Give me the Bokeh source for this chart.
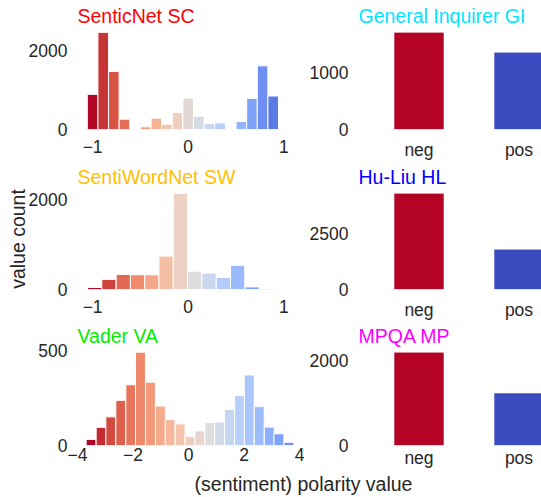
import numpy as np
from bokeh.plotting import figure
from bokeh.layouts import column, row
from bokeh.models import Range1d, FixedTicker, Label, ColumnDataSource
from bokeh.embed import file_html
from bokeh.resources import INLINE

# ---------------- data ----------------
sc_centers = [-1.0, -0.889, -0.778, -0.667, -0.556, -0.444, -0.333, -0.222, -0.111, 0.0,
              0.111, 0.222, 0.333, 0.444, 0.556, 0.667, 0.778, 0.889, 1.0]
sc_counts = [891, 2462, 1471, 261, 0, 67, 286, 134, 429, 798,
             336, 151, 168, 0, 202, 790, 1613, 849, 0]
sc_bin_width = 0.111

sw_centers = [-0.978, -0.829, -0.679, -0.530, -0.380, -0.231, -0.081,
              0.068, 0.218, 0.368, 0.517, 0.667, 0.816]
sw_counts = [44, 225, 335, 327, 327, 742, 2138, 407, 364, 269, 538, 58, 12]
sw_bin_width = 0.1495

va_centers = [-3.51, -3.15, -2.80, -2.44, -2.08, -1.73, -1.37, -1.01, -0.66, -0.30,
              0.055, 0.41, 0.77, 1.12, 1.48, 1.84, 2.19, 2.55, 2.91, 3.26, 3.62]
va_counts = [32, 96, 151, 238, 320, 492, 334, 208, 136, 114,
             47, 77, 121, 124, 190, 263, 372, 205, 97, 62, 17]
va_bin_width = 0.3565

categories = ["neg", "pos"]
gi_counts = [1714, 1363]
hl_counts = [4285, 1798]
mp_counts = [2203, 1240]

unit_ticks = [-1, 0, 1]
unit_tick_labels = ["\u22121", "0", "1"]
va_ticks = [-4, -2, 0, 2, 4]
va_tick_labels = ["\u22124", "\u22122", "0", "2", "4"]
sc_yticks = [0, 2000]
sw_yticks = [0, 2000]
va_yticks = [0, 500]
gi_yticks = [0, 1000]
hl_yticks = [0, 2500]
mp_yticks = [0, 2000]

titles = {
    "sc": ("SenticNet SC", "#ff0000"),
    "sw": ("SentiWordNet SW", "#ffc000"),
    "va": ("Vader VA", "#00ee00"),
    "gi": ("General Inquirer GI", "#00e5ff"),
    "hl": ("Hu-Liu HL", "#0000ff"),
    "mp": ("MPQA MP", "#ff00ff"),
}

# ---------------- style ----------------
FONT = "Liberation Sans"
TICK_SIZE = "17.5px"
LABEL_SIZE = "19.5px"
TXT = "#262626"

_cw_t = np.linspace(0, 1, 17)
_cw_rgb = np.array([
    [0.230, 0.299, 0.754], [0.304, 0.407, 0.845], [0.383, 0.509, 0.917], [0.467, 0.605, 0.968],
    [0.553, 0.689, 0.995], [0.639, 0.760, 0.998], [0.722, 0.814, 0.977], [0.799, 0.850, 0.932],
    [0.865, 0.865, 0.866], [0.924, 0.827, 0.775], [0.959, 0.770, 0.678], [0.970, 0.694, 0.579],
    [0.958, 0.603, 0.482], [0.924, 0.497, 0.388], [0.869, 0.378, 0.300], [0.796, 0.241, 0.220],
    [0.706, 0.016, 0.150]])


def coolwarm(t):
    rgb = [np.interp(t, _cw_t, _cw_rgb[:, k]) for k in range(3)]
    return "#%02x%02x%02x" % tuple(int(round(255 * c)) for c in rgb)


FRAME_H = 103
LEFT_W, RIGHT_W = 304, 237

# per-row borders: (top, bottom, title standoff, x tick standoff)
ROWS = [(27, 32, 2, 10), (24, 33, 2, 10), (23, 22, 1, 2)]


def style(p, key, xticks, xlabels, yticks, title_standoff, xtick_standoff):
    p.xgrid.visible = False
    p.ygrid.visible = False
    p.outline_line_color = None
    p.border_fill_color = None
    for ax in (p.xaxis[0], p.yaxis[0]):
        ax.axis_line_color = None
        ax.major_tick_line_color = None
        ax.minor_tick_line_color = None
        ax.major_tick_out = 0
        ax.major_tick_in = 0
        ax.major_label_standoff = 10
        ax.major_label_text_font = FONT
        ax.major_label_text_font_size = TICK_SIZE
        ax.major_label_text_color = TXT
    p.xaxis.major_label_standoff = xtick_standoff
    p.xaxis.ticker = FixedTicker(ticks=xticks)
    p.xaxis.major_label_overrides = {t: l for t, l in zip(xticks, xlabels)}
    p.yaxis.ticker = FixedTicker(ticks=yticks)
    text, color = titles[key]
    p.title.text = text
    p.title.align = "left"
    p.title.text_color = color
    p.title.text_font = FONT
    p.title.text_font_size = LABEL_SIZE
    p.title.text_font_style = "normal"
    p.title.standoff = title_standoff
    p.title.offset = 0


def hist_panel(key, centers, counts, width, span, xr, xticks, xlabels, yticks, r):
    top, bottom, tso, xso = ROWS[r]
    p = figure(width=LEFT_W, height=top + FRAME_H + bottom,
               x_range=Range1d(*xr), y_range=Range1d(0, 1.05 * max(counts)),
               min_border_left=77, min_border_right=5, min_border_top=top, min_border_bottom=bottom,
               output_backend="svg", toolbar_location=None)
    colors = [coolwarm(1 - i / span) for i in range(len(centers))]
    src = ColumnDataSource(dict(x=centers, top=counts, color=colors))
    p.vbar(x="x", top="top", bottom=0, width=width, source=src,
           fill_color="color", line_color="white", line_width=1)
    style(p, key, xticks, xlabels, yticks, tso, xso)
    return p


def bar_panel(key, counts, yticks, r):
    top, bottom, tso, xso = ROWS[r]
    p = figure(width=RIGHT_W, height=top + FRAME_H + bottom,
               x_range=Range1d(-0.605, 1.225), y_range=Range1d(0, 1.05 * max(counts)),
               min_border_left=54, min_border_right=0, min_border_top=top, min_border_bottom=bottom,
               output_backend="svg", toolbar_location=None)
    xs = list(range(len(categories)))
    colors = [coolwarm(1.0), coolwarm(0.0)]
    src = ColumnDataSource(dict(x=xs, top=counts, color=colors))
    p.vbar(x="x", top="top", bottom=0, width=0.5, source=src,
           fill_color="color", line_color="white", line_width=1, line_alpha=0.6)
    style(p, key, xs, categories, yticks, tso, xso)
    return p


sc = hist_panel("sc", sc_centers, sc_counts, sc_bin_width, 19, (-1.158, 1.164),
                unit_ticks, unit_tick_labels, sc_yticks, 0)
sw = hist_panel("sw", sw_centers, sw_counts, sw_bin_width, 14, (-1.158, 1.164),
                unit_ticks, unit_tick_labels, sw_yticks, 1)
va = hist_panel("va", va_centers, va_counts, va_bin_width, 24, (-4, 4),
                va_ticks, va_tick_labels, va_yticks, 2)
gi = bar_panel("gi", gi_counts, gi_yticks, 0)
hl = bar_panel("hl", hl_counts, hl_yticks, 1)
mp = bar_panel("mp", mp_counts, mp_yticks, 2)

sw.yaxis.axis_label = "value count"
sw.yaxis.axis_label_standoff = -3
sw.yaxis.axis_label_text_font = FONT
sw.yaxis.axis_label_text_font_size = LABEL_SIZE
sw.yaxis.axis_label_text_font_style = "normal"
sw.yaxis.axis_label_text_color = TXT

# shared x label across both columns
W = LEFT_W + RIGHT_W
LAB_H = 27
lab = figure(width=W, height=LAB_H, x_range=Range1d(0, W), y_range=Range1d(0, LAB_H),
             min_border=0, x_axis_location=None, y_axis_location=None,
             output_backend="svg", toolbar_location=None)
lab.title = None
lab.grid.visible = False
lab.outline_line_color = None
lab.background_fill_color = None
lab.border_fill_color = None
lab.add_layout(Label(x=303, y=LAB_H / 2, text="(sentiment) polarity value", text_align="center",
                     text_baseline="middle", text_font=FONT, text_font_size=LABEL_SIZE,
                     text_color=TXT))

layout = column(row(sc, gi), row(sw, hl), row(va, mp), lab)
open("out.html", "w").write(file_html(layout, INLINE))
